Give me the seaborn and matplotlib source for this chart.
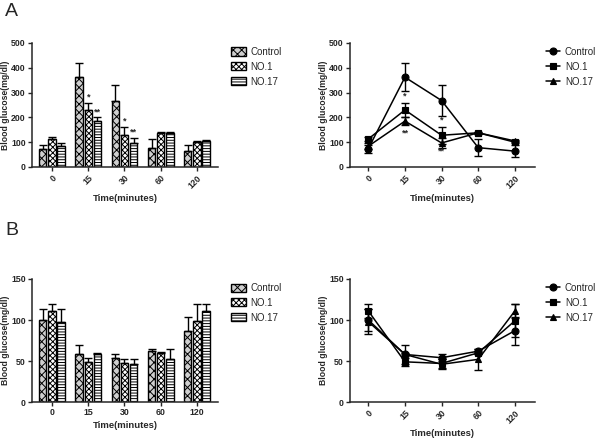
import numpy as np
import pandas as pd
import matplotlib
matplotlib.use("Agg")
import matplotlib.pyplot as plt
import seaborn as sns

# ---------------- data ----------------
times = ["0", "15", "30", "60", "120"]
groups = ["Control", "NO.1", "NO.17"]

# Panel A (mean, SD)
a_control = [74, 362, 268, 78, 64]
a_control_sd = [16, 57, 63, 33, 23]
a_no1 = [113, 230, 128, 138, 100]
a_no1_sd = [8, 27, 34, 4, 3]
a_no17 = [84, 185, 97, 138, 105]
a_no17_sd = [11, 15, 19, 4, 4]

# Panel B (mean, SD)
b_control = [100, 58, 54, 62, 87]
b_control_sd = [13, 12, 4, 3, 17]
b_no1 = [111, 49, 47, 60, 99]
b_no1_sd = [8, 5, 5, 1, 20]
b_no17 = [98, 58, 46, 52, 111]
b_no17_sd = [15, 2, 6, 13, 8]

# significance marks: (time index, group, text)
a_marks = [(1, "NO.1", "*"), (1, "NO.17", "**"), (2, "NO.1", "*"), (2, "NO.17", "**")]

# ---------------- style ----------------
sns.set_style("ticks")
plt.rcParams["font.family"] = ["Liberation Sans", "DejaVu Sans"]
plt.rcParams["hatch.linewidth"] = 0.7
plt.rcParams["axes.linewidth"] = 1.1

fig = plt.figure(figsize=(6, 4.4), dpi=100)
W, H = 600, 440

def add_axes(l, t, r, b):
    return fig.add_axes([l / W, 1 - b / H, (r - l) / W, (b - t) / H])

ax_a_bar = add_axes(32, 43, 218, 167)
ax_a_line = add_axes(350, 43, 535, 167)
ax_b_bar = add_axes(32, 279, 218, 402)
ax_b_line = add_axes(350, 279, 535, 402)

hatches = {"Control": "xxxx", "NO.1": "XXXXXX", "NO.17": "------"}
faces = {"Control": "#cfcfcf", "NO.1": "white", "NO.17": "white"}
markers = {"Control": "o", "NO.1": "s", "NO.17": "^"}

TICK_FS = 6.3
LAB_FS = 6.8
YLAB_FS = 6.2
LEG_FS = 7


def make_df(c, n1, n17, cs, n1s, n17s):
    rows = []
    for g, v, s in zip(groups, [c, n1, n17], [cs, n1s, n17s]):
        for t, vv, ss in zip(times, v, s):
            rows.append({"Time": t, "Group": g, "Glucose": vv, "SD": ss})
    return pd.DataFrame(rows)


def style_axes(ax, ymax, yticks, rotate, xlim):
    sns.despine(ax=ax)
    ax.set_ylim(0, ymax)
    ax.set_yticks(yticks)
    ax.set_xlim(*xlim)
    ax.tick_params(axis="both", length=3, width=1.0, labelsize=TICK_FS, pad=1.5)
    for lab in ax.get_xticklabels() + ax.get_yticklabels():
        lab.set_fontweight("bold")
    if rotate:
        for lab in ax.get_xticklabels():
            lab.set_rotation(45)
            lab.set_ha("right")
            lab.set_va("top")
            lab.set_rotation_mode("anchor")
    ax.set_xlabel("Time(minutes)", fontsize=LAB_FS, fontweight="bold", labelpad=3)
    ax.set_ylabel("Blood glucose(mg/dl)", fontsize=YLAB_FS, fontweight="bold", labelpad=1)


def bar_panel(ax, df, ymax, yticks, rotate, marks=()):
    sns.barplot(data=df, x="Time", y="Glucose", hue="Group", order=times,
                hue_order=groups, errorbar=None, width=0.76, gap=0.2,
                ax=ax, edgecolor="black", linewidth=1.0)
    bars = [p for p in ax.patches if p.get_height() > 0][: len(groups) * len(times)]
    pos = {}
    for gi, g in enumerate(groups):
        for ti, t in enumerate(times):
            p = bars[gi * len(times) + ti]
            p.set_facecolor(faces[g])
            p.set_hatch(hatches[g])
            row = df[(df.Group == g) & (df.Time == t)].iloc[0]
            xc = p.get_x() + p.get_width() / 2
            pos[(ti, g)] = (xc, row.Glucose + row.SD)
            ax.errorbar(xc, row.Glucose, yerr=[[0], [row.SD]], color="black",
                        capsize=2.6, elinewidth=1.0, capthick=1.0, zorder=1)
    for ti, g, txt in marks:
        x, y = pos[(ti, g)]
        ax.text(x, y + ymax * 0.01, txt, ha="center", va="bottom",
                fontsize=6.5, fontweight="bold")
    leg = ax.legend(loc="upper left", bbox_to_anchor=(1.05, 1.0), frameon=False,
                    fontsize=LEG_FS, handlelength=1.5, handleheight=0.9,
                    handletextpad=0.5, labelspacing=0.5, borderaxespad=0.2,
                    borderpad=0.2)
    for h, g in zip(leg.legend_handles, groups):
        h.set_facecolor(faces[g])
        h.set_hatch(hatches[g])
        h.set_edgecolor("black")
    style_axes(ax, ymax, yticks, rotate, (-0.55, 4.58))


def line_panel(ax, df, ymax, yticks):
    sns.pointplot(data=df, x="Time", y="Glucose", hue="Group", order=times,
                  hue_order=groups, errorbar=None, markers=[markers[g] for g in groups],
                  linestyles=["-", "-", "-"], palette=["black"] * 3,
                  markersize=5, linewidth=1.1, ax=ax)
    for g in groups:
        sub = df[df.Group == g].set_index("Time").loc[times]
        ax.errorbar(np.arange(len(times)), sub.Glucose, yerr=sub.SD, fmt="none",
                    ecolor="black", capsize=2.6, elinewidth=1.0, capthick=1.0)
    ax.legend(loc="upper left", bbox_to_anchor=(1.04, 1.0), frameon=False,
              fontsize=LEG_FS, handlelength=1.4, handletextpad=0.5,
              labelspacing=0.5, borderaxespad=0.2, borderpad=0.2)
    style_axes(ax, ymax, yticks, True, (-0.5, 4.55))


df_a = make_df(a_control, a_no1, a_no17, a_control_sd, a_no1_sd, a_no17_sd)
df_b = make_df(b_control, b_no1, b_no17, b_control_sd, b_no1_sd, b_no17_sd)

bar_panel(ax_a_bar, df_a, 500, [0, 100, 200, 300, 400, 500], True, a_marks)
line_panel(ax_a_line, df_a, 500, [0, 100, 200, 300, 400, 500])
for ti, txt, yv in [(1, "*", 268), (1, "**", 118), (2, "*", 170), (2, "**", 45)]:
    ax_a_line.text(ti, yv, txt, ha="center", va="bottom", fontsize=6.5, fontweight="bold")

bar_panel(ax_b_bar, df_b, 150, [0, 50, 100, 150], False)
line_panel(ax_b_line, df_b, 150, [0, 50, 100, 150])

fig.text(5 / W, 1 - 3 / H, "A", fontsize=14, va="top", ha="left")
fig.text(5 / W, 1 - 222 / H, "B", fontsize=14, va="top", ha="left")

fig.savefig("out.png", dpi=100)
